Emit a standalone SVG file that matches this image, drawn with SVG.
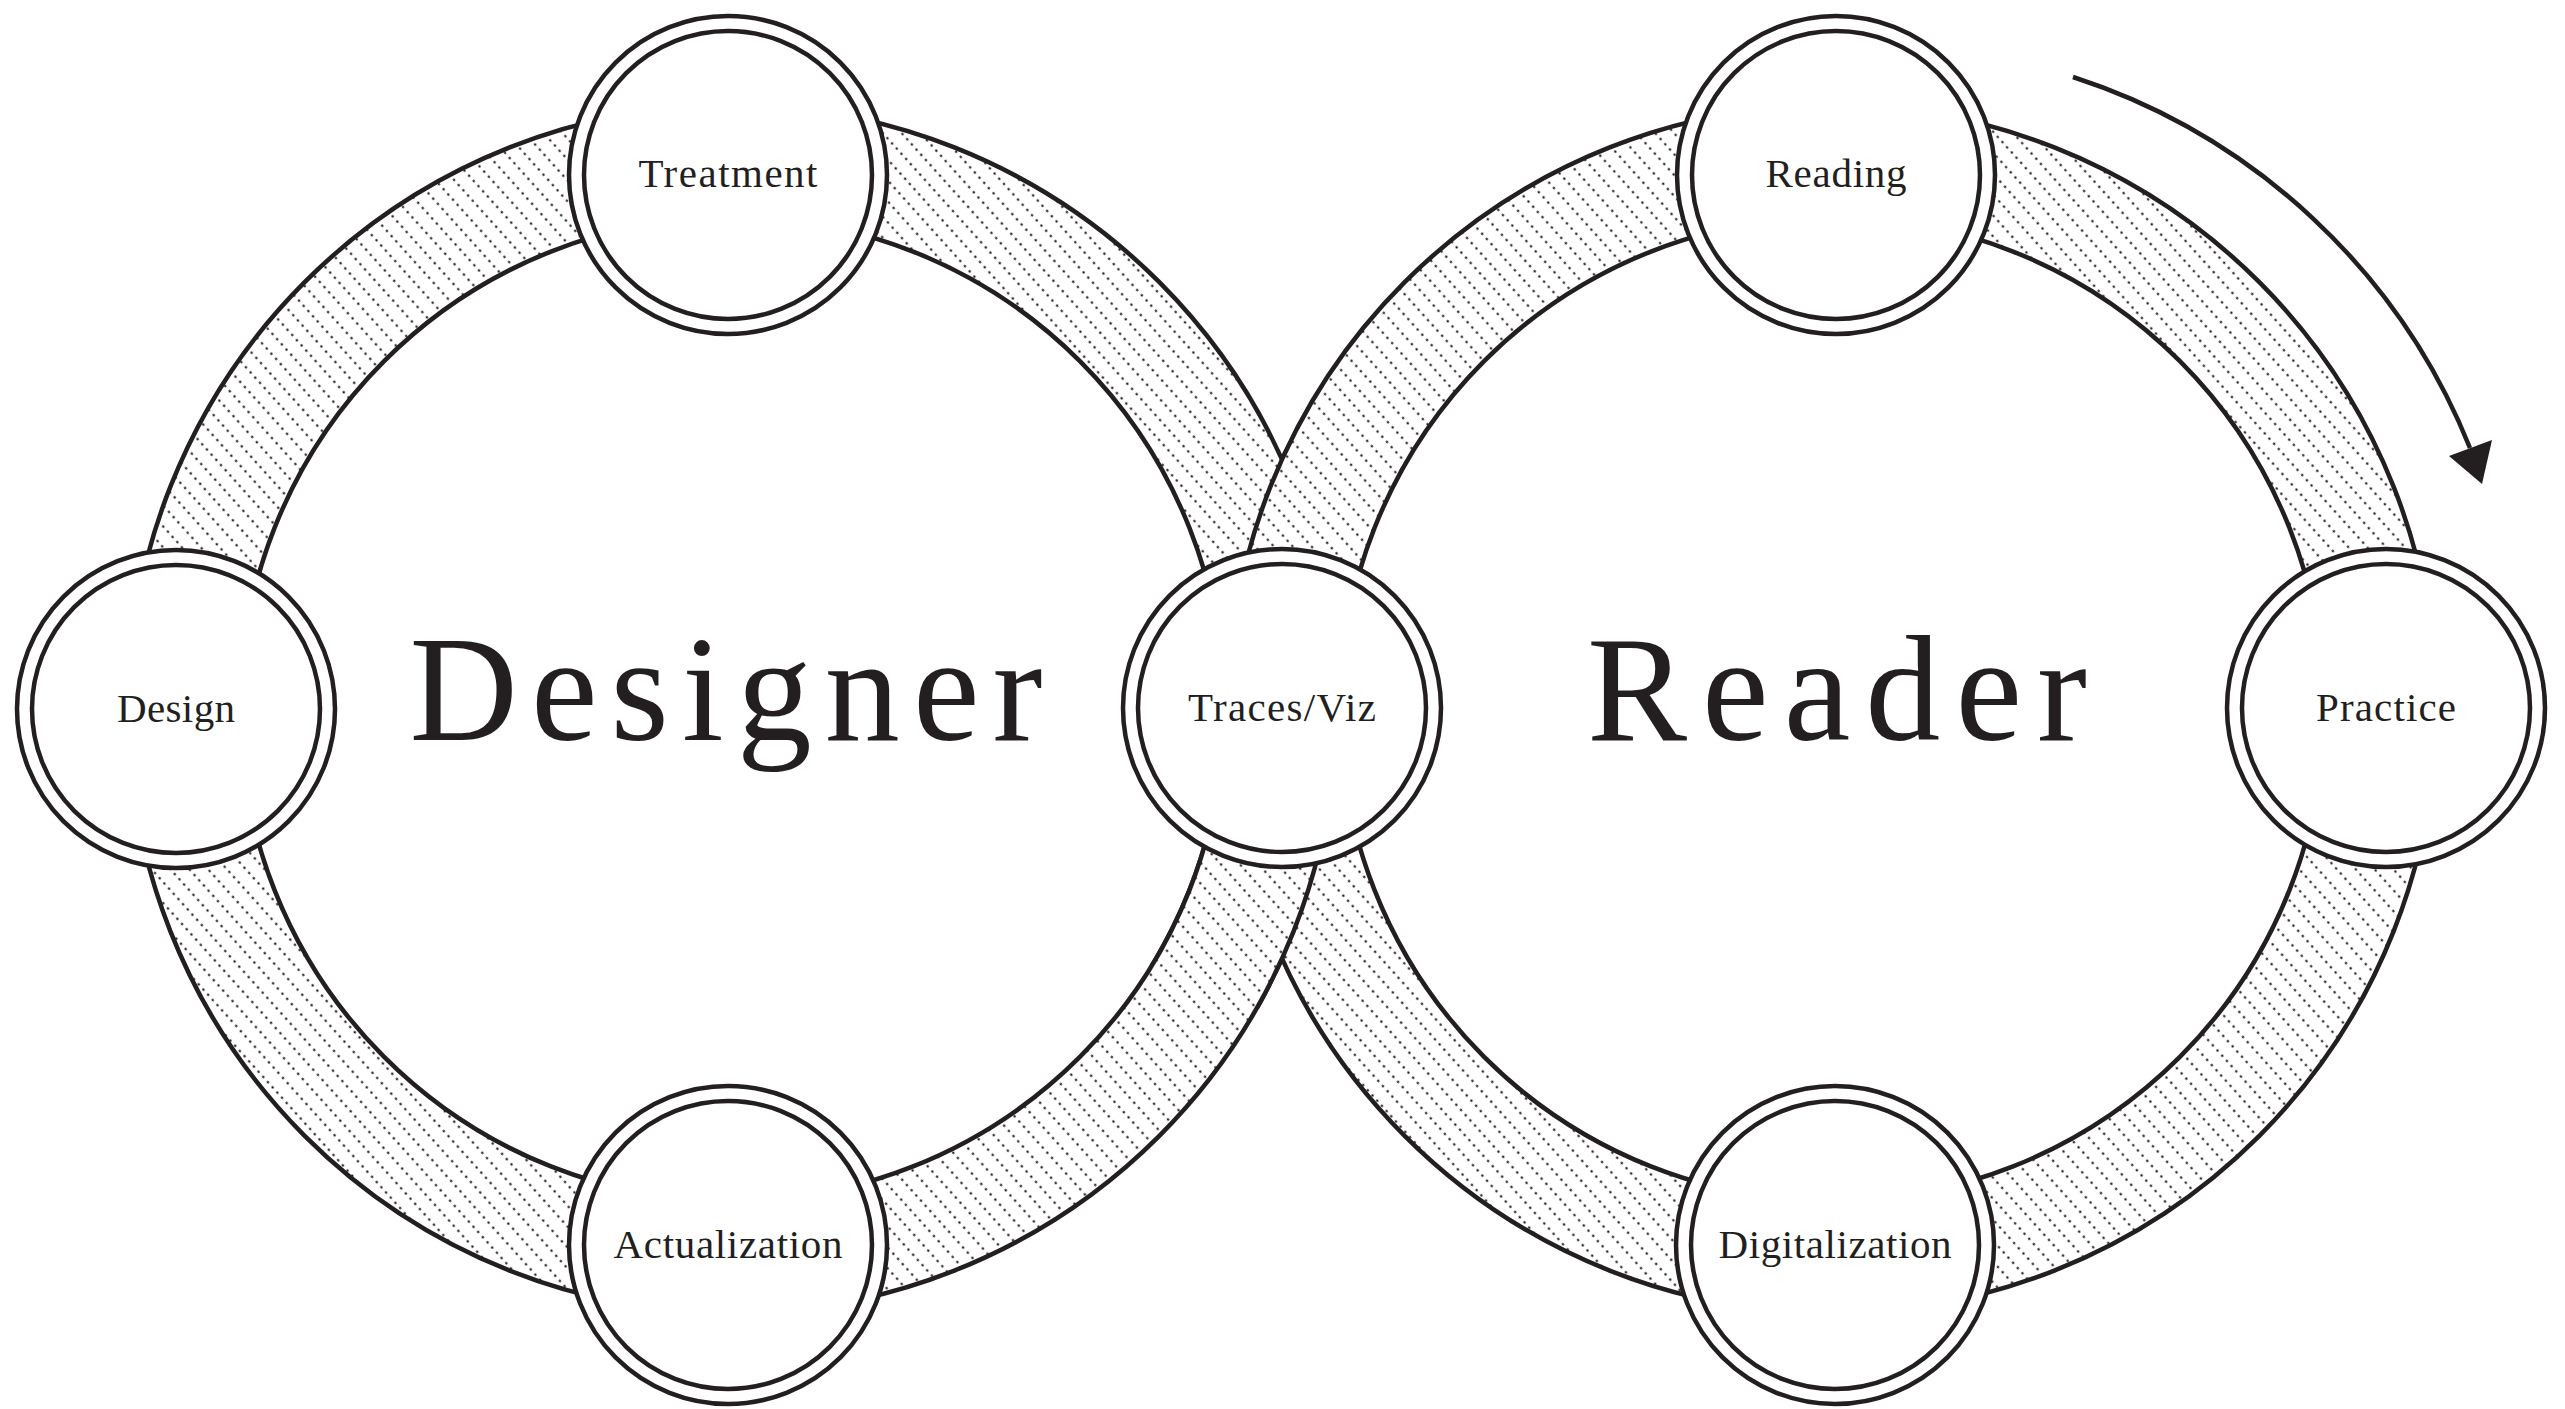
<svg xmlns="http://www.w3.org/2000/svg" width="2565" height="1409" viewBox="0 0 2565 1409">
  <style>
    .line { fill: none; stroke: #231f20; stroke-width: 4.5; }
    .band { fill: url(#dots); fill-rule: evenodd; }
    .node-o { fill: #ffffff; stroke: #231f20; stroke-width: 4.5; }
    .node-i { fill: #ffffff; stroke: #231f20; stroke-width: 4.5; }
    .label { font-family: "Liberation Serif", "Times New Roman", serif; font-size: 41px; fill: #231f20; text-anchor: middle; }
    .title { font-family: "Liberation Serif", "Times New Roman", serif; font-size: 150px; fill: #231f20; text-anchor: middle; }
  </style>
  <defs>
    <pattern id="dots" patternUnits="userSpaceOnUse" width="7" height="14" patternTransform="rotate(48)">
      <rect x="0" y="0" width="7" height="14" fill="#ffffff"/>
      <circle cx="3.5" cy="7" r="1.25" fill="#231f20"/>
    </pattern>
    <clipPath id="lowerCross">
      <rect x="1150" y="709" width="270" height="300"/>
    </clipPath>
    <g id="ringL">
      <path class="band" d="M128,709 a604,604 0 1,0 1208,0 a604,604 0 1,0 -1208,0 Z M240,709 a492,492 0 1,0 984,0 a492,492 0 1,0 -984,0 Z"/>
      <circle class="line" cx="732" cy="709" r="604"/>
      <circle class="line" cx="732" cy="709" r="492"/>
    </g>
    <g id="ringR">
      <path class="band" d="M1228,709 a604,604 0 1,0 1208,0 a604,604 0 1,0 -1208,0 Z M1340,709 a492,492 0 1,0 984,0 a492,492 0 1,0 -984,0 Z"/>
      <circle class="line" cx="1832" cy="709" r="604"/>
      <circle class="line" cx="1832" cy="709" r="492"/>
    </g>
  </defs>

  <rect x="0" y="0" width="2565" height="1409" fill="#ffffff"/>

  <g id="rings">
    <use href="#ringL"/>
    <use href="#ringR"/>
    <use href="#ringL" clip-path="url(#lowerCross)"/>
  </g>

  <g id="connectors">
    <path class="line" d="M2073,77 A640,640 0 0,1 2470,448"/>
    <polygon points="2449,456 2492,440 2482,484" fill="#231f20"/>
  </g>

  <g id="node-treatment">
    <circle class="node-o" cx="728" cy="175" r="159"/>
    <circle class="node-i" cx="728" cy="175" r="144"/>
    <text class="label" x="728" y="187" textLength="179" lengthAdjust="spacing">Treatment</text>
  </g>
  <g id="node-design">
    <circle class="node-o" cx="176" cy="709" r="159"/>
    <circle class="node-i" cx="176" cy="709" r="144"/>
    <text class="label" x="176" y="722" textLength="118" lengthAdjust="spacing">Design</text>
  </g>
  <g id="node-actualization">
    <circle class="node-o" cx="728" cy="1245" r="159"/>
    <circle class="node-i" cx="728" cy="1245" r="144"/>
    <text class="label" x="728" y="1258" textLength="229" lengthAdjust="spacing">Actualization</text>
  </g>
  <g id="node-traces">
    <circle class="node-o" cx="1282" cy="708" r="159"/>
    <circle class="node-i" cx="1282" cy="708" r="144"/>
    <text class="label" x="1282" y="721" textLength="188" lengthAdjust="spacing">Traces/Viz</text>
  </g>
  <g id="node-reading">
    <circle class="node-o" cx="1836" cy="175" r="159"/>
    <circle class="node-i" cx="1836" cy="175" r="144"/>
    <text class="label" x="1836" y="187" textLength="141" lengthAdjust="spacing">Reading</text>
  </g>
  <g id="node-practice">
    <circle class="node-o" cx="2386" cy="708" r="159"/>
    <circle class="node-i" cx="2386" cy="708" r="144"/>
    <text class="label" x="2386" y="721" textLength="140" lengthAdjust="spacing">Practice</text>
  </g>
  <g id="node-digitalization">
    <circle class="node-o" cx="1835" cy="1245" r="159"/>
    <circle class="node-i" cx="1835" cy="1245" r="144"/>
    <text class="label" x="1835" y="1258" textLength="233" lengthAdjust="spacing">Digitalization</text>
  </g>

  <g id="node-designer">
    <text class="title" x="726" y="740" textLength="633" lengthAdjust="spacing">Designer</text>
  </g>
  <g id="node-reader">
    <text class="title" x="1837" y="740" textLength="500" lengthAdjust="spacing">Reader</text>
  </g>
</svg>
